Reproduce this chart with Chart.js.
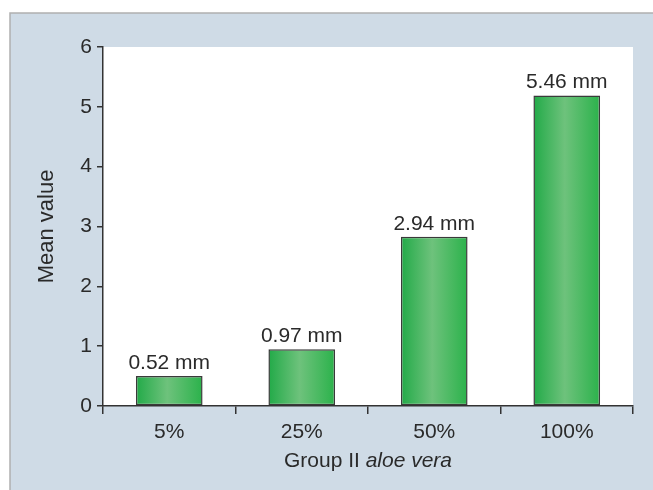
<!DOCTYPE html>
<html>
<head>
<meta charset="utf-8">
<script src="https://cdn.jsdelivr.net/npm/chart.js@4/dist/chart.umd.min.js"></script>
<style>
html,body{margin:0;padding:0;background:#fff;}
canvas{display:block;}
</style>
</head>
<body>
<canvas id="c" width="653" height="490"></canvas>
<script>
const categories = ['5%', '25%', '50%', '100%'];
const meanValues = [0.50, 0.95, 2.83, 5.19];
const valueLabels = ['0.52 mm', '0.97 mm', '2.94 mm', '5.46 mm'];
const yTicks = [0, 1, 2, 3, 4, 5, 6];
const yTitle = 'Mean value';
const xTitleNormal = 'Group II ';
const xTitleItalic = 'aloe vera';

const FONT = 'Liberation Sans, Arial, Helvetica, sans-serif';
const FS = 21;
const TEXT = '#2a2a2a';
const AXIS = '#333333';
const BAR_PCT = 0.503;

function barGradient(c) {
  const chart = c.chart;
  const xs = chart.scales.x;
  if (!xs || !chart.chartArea) return '#3cb55a';
  const cx = xs.getPixelForValue(c.dataIndex);
  const w = (xs.width / categories.length) * BAR_PCT;
  const g = chart.ctx.createLinearGradient(cx - w / 2, 0, cx + w / 2, 0);
  g.addColorStop(0, '#22aa48');
  g.addColorStop(0.47, '#6ec27c');
  g.addColorStop(1, '#2bb24b');
  return g;
}

const framePlugin = {
  id: 'frame',
  beforeDraw(chart) {
    const ctx = chart.ctx, a = chart.chartArea;
    ctx.save();
    ctx.fillStyle = '#ffffff';
    ctx.fillRect(0, 0, chart.width, chart.height);
    ctx.fillStyle = '#cfdbe6';
    ctx.fillRect(10, 13, chart.width - 10, chart.height - 13);
    ctx.strokeStyle = '#b0b0b0';
    ctx.lineWidth = 1.5;
    ctx.beginPath();
    ctx.moveTo(10, chart.height);
    ctx.lineTo(10, 13);
    ctx.lineTo(chart.width, 13);
    ctx.stroke();
    ctx.fillStyle = '#ffffff';
    ctx.fillRect(a.left, a.top, a.right - a.left, a.bottom - a.top);
    ctx.restore();
  },
  afterDraw(chart) {
    const ctx = chart.ctx, a = chart.chartArea;
    ctx.save();
    ctx.fillStyle = TEXT;
    ctx.font = FS + 'px ' + FONT;
    ctx.textAlign = 'center';
    ctx.textBaseline = 'alphabetic';
    chart.getDatasetMeta(0).data.forEach((bar, i) => {
      ctx.fillText(valueLabels[i], bar.x, bar.y - 7);
    });
    ctx.textAlign = 'left';
    ctx.font = FS + 'px ' + FONT;
    const w1 = ctx.measureText(xTitleNormal).width;
    ctx.font = 'italic ' + FS + 'px ' + FONT;
    const w2 = ctx.measureText(xTitleItalic).width;
    const cx = (a.left + a.right) / 2;
    const sx = cx - (w1 + w2) / 2;
    const by = 467;
    ctx.font = FS + 'px ' + FONT;
    ctx.fillText(xTitleNormal, sx, by);
    ctx.font = 'italic ' + FS + 'px ' + FONT;
    ctx.fillText(xTitleItalic, sx + w1, by);
    ctx.restore();
  }
};

new Chart(document.getElementById('c'), {
  type: 'bar',
  data: {
    labels: categories,
    datasets: [{
      data: meanValues,
      backgroundColor: barGradient,
      borderColor: '#3a3a3a',
      borderWidth: 1.5,
      borderSkipped: false,
      categoryPercentage: 1,
      barPercentage: BAR_PCT
    }]
  },
  options: {
    responsive: false,
    animation: false,
    devicePixelRatio: 1,
    layout: { padding: { left: 10, right: 20, top: 47, bottom: 0 } },
    plugins: { legend: { display: false }, tooltip: { enabled: false } },
    scales: {
      x: {
        grid: { display: true, drawOnChartArea: false, offset: true, tickLength: 8, color: AXIS, lineWidth: 1.5 },
        border: { color: AXIS, width: 1.5 },
        ticks: { color: TEXT, font: { family: FONT, size: FS }, padding: 6 },
        afterFit(s) { s.height = 84; }
      },
      y: {
        min: 0, max: 6,
        afterBuildTicks(s) { s.ticks = yTicks.map(v => ({ value: v })); },
        grid: { display: true, drawOnChartArea: false, tickLength: 6, color: AXIS, lineWidth: 1.5 },
        border: { color: AXIS, width: 1.5 },
        ticks: { color: TEXT, font: { family: FONT, size: FS }, padding: 5 },
        title: { display: true, text: yTitle, color: TEXT, font: { family: FONT, size: 22 }, padding: { top: 24, bottom: 0 } },
        afterFit(s) { s.width = 93; }
      }
    }
  },
  plugins: [framePlugin]
});
</script>
</body>
</html>
